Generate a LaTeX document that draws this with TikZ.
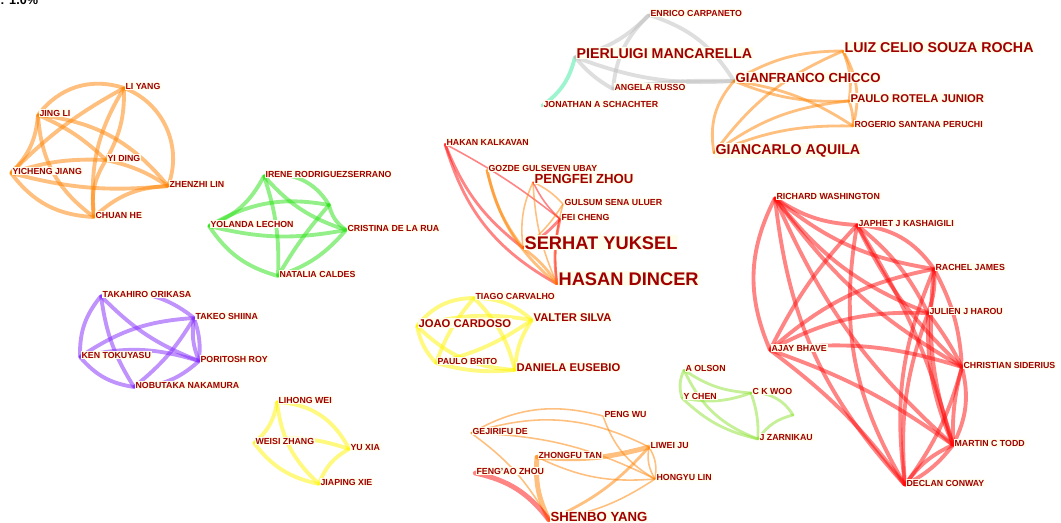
\documentclass[tikz,border=0pt]{standalone}
\usepackage{fontspec}
\setmainfont{Liberation Sans}
\usetikzlibrary{backgrounds}
\definecolor{lblred}{RGB}{160,0,0}
\definecolor{lblbg}{RGB}{255,253,236}
\definecolor{eorange}{RGB}{255,130,0}
\definecolor{ered}{RGB}{255,10,10}
\definecolor{egreen}{RGB}{40,225,20}
\definecolor{epurple}{RGB}{130,40,250}
\definecolor{eyellow}{RGB}{255,245,0}
\definecolor{egrey}{RGB}{190,190,190}
\definecolor{eaqua}{RGB}{60,235,160}
\definecolor{elime}{RGB}{140,225,50}
\begin{document}
\begin{tikzpicture}[x=0.02cm,y=-0.02cm,
	v/.style={inner sep=0pt,minimum size=0pt},
	lab/.style={anchor=base west,yshift=-0.6pt,inner sep=0.5pt,fill=lblbg,text=lblred,font=\bfseries\fontsize{5}{6}\selectfont},
	labm/.style={lab,font=\bfseries\fontsize{6.4}{7.5}\selectfont},
	labl/.style={lab,font=\bfseries\fontsize{7.5}{9}\selectfont},
	labxl/.style={lab,font=\bfseries\fontsize{8.1}{10}\selectfont},
	labxxl/.style={lab,font=\bfseries\fontsize{10.4}{12}\selectfont},
	ed/.style={line cap=round,draw opacity=0.5,line width=2.2pt},
	tn/.style={line width=0.9pt},
	md/.style={line width=1.6pt},
	tk/.style={line width=2.8pt},
	or/.style={ed,draw=eorange},
	rd/.style={ed,draw=ered},
	gr/.style={ed,draw=egreen},
	pu/.style={ed,draw=epurple},
	ye/.style={ed,draw=eyellow},
	gy/.style={ed,draw=egrey},
	aq/.style={ed,draw=eaqua},
	li/.style={ed,draw=elime}]
	\useasboundingbox (0,0) rectangle (1061,523);
	\node[anchor=base west,inner sep=0pt,font=\bfseries\fontsize{7.2}{8}\selectfont] (cutnote) at (0,4.5) {: 1.0\%};

	% orange, left
	\node[v,label={[lab]right:LI YANG}] (liyang) at (124,88) {};
	\node[v,label={[lab]right:JING LI}] (jingli) at (38,115) {};
	\node[v,label={[lab]right:YI DING}] (yiding) at (106,160) {};
	\node[v,label={[lab]right:YICHENG JIANG}] (yicheng) at (11,173) {};
	\node[v,label={[lab]right:ZHENZHI LIN}] (zhenzhi) at (168,186) {};
	\node[v,label={[lab]right:CHUAN HE}] (chuanhe) at (94,217) {};

	% green
	\node[v,label={[lab]right:IRENE RODRIGUEZSERRANO}] (irene) at (264,176) {};
	\node[v,label={[lab]right:YOLANDA LECHON}] (yolanda) at (209,226) {};
	\node[v,label={[lab]right:CRISTINA DE LA RUA}] (cristina) at (346,230) {};
	\node[v,label={[lab]right:NATALIA CALDES}] (natalia) at (278,276) {};
	\coordinate (gx) at (329,205);

	% purple
	\node[v,label={[lab]right:TAKAHIRO ORIKASA}] (takahiro) at (101,296) {};
	\node[v,label={[lab]right:TAKEO SHIINA}] (takeo) at (194,318) {};
	\node[v,label={[lab]right:KEN TOKUYASU}] (ken) at (80,357) {};
	\node[v,label={[lab]right:PORITOSH ROY}] (poritosh) at (199,361) {};
	\node[v,label={[lab]right:NOBUTAKA NAKAMURA}] (nobutaka) at (134,387) {};

	% yellow, small
	\node[v,label={[lab]right:LIHONG WEI}] (lihong) at (277,402) {};
	\node[v,label={[lab]right:WEISI ZHANG}] (weisi) at (254,443) {};
	\node[v,label={[lab]right:YU XIA}] (yuxia) at (349,449) {};
	\node[v,label={[lab]right:JIAPING XIE}] (jiaping) at (319,484) {};

	% serhat group
	\node[v,label={[lab]right:HAKAN KALKAVAN}] (hakan) at (445,144) {};
	\node[v,label={[lab]right:GOZDE GULSEVEN UBAY}] (gozde) at (487,170) {};
	\node[v,label={[labl]right:PENGFEI ZHOU}] (pengfei) at (533,182) {};
	\node[v,label={[lab]right:GULSUM SENA ULUER}] (gulsum) at (563,204) {};
	\node[v,label={[lab]right:FEI CHENG}] (feicheng) at (560,219) {};
	\node[v,label={[labxxl]right:SERHAT YUKSEL}] (serhat) at (523,248) {};
	\node[v,label={[labxxl]right:HASAN DINCER}] (hasan) at (557,284) {};

	% grey
	\node[v,label={[lab]right:ENRICO CARPANETO}] (enrico) at (649,15) {};
	\node[v,label={[labxl]right:PIERLUIGI MANCARELLA}] (pierluigi) at (575,57) {};
	\node[v,label={[lab]right:ANGELA RUSSO}] (angela) at (613,89) {};
	\node[v,label={[lab]right:JONATHAN A SCHACHTER}] (jonathan) at (542,106) {};

	% orange, top right
	\node[v,label={[labxl]right:LUIZ CELIO SOUZA ROCHA}] (luiz) at (843,51) {};
	\node[v,label={[labl]right:GIANFRANCO CHICCO}] (gianfranco) at (734,81) {};
	\node[v,label={[labm]right:PAULO ROTELA JUNIOR}] (paulor) at (849,101) {};
	\node[v,label={[lab]right:ROGERIO SANTANA PERUCHI}] (rogerio) at (853,126) {};
	\node[v,label={[labxl]right:GIANCARLO AQUILA}] (giancarlo) at (714,153) {};

	% yellow, middle
	\node[v,label={[lab]right:TIAGO CARVALHO}] (tiago) at (474,298) {};
	\node[v,label={[labm]right:JOAO CARDOSO}] (joao) at (417,326) {};
	\node[v,label={[labm]right:VALTER SILVA}] (valter) at (532,320) {};
	\node[v,label={[lab]right:PAULO BRITO}] (paulob) at (436,363) {};
	\node[v,label={[labm]right:DANIELA EUSEBIO}] (daniela) at (515,370) {};

	% shenbo group
	\node[v,label={[lab]right:PENG WU}] (pengwu) at (603,416) {};
	\node[v,label={[lab]right:GEJIRIFU DE}] (gejirifu) at (471,433) {};
	\node[v,label={[lab]right:LIWEI JU}] (liwei) at (649,447) {};
	\node[v,label={[lab]right:ZHONGFU TAN}] (zhongfu) at (537,457) {};
	\node[v,label={[lab]right:FENG'AO ZHOU}] (fengao) at (475,473) {};
	\node[v,label={[lab]right:HONGYU LIN}] (hongyu) at (655,479) {};
	\node[v,label={[labl]right:SHENBO YANG}] (shenbo) at (549,520) {};

	% lime
	\node[v,label={[lab]right:A OLSON}] (olson) at (684,370) {};
	\node[v,label={[lab]right:Y CHEN}] (ychen) at (682,398) {};
	\node[v,label={[lab]right:C K WOO}] (ckwoo) at (751,393) {};
	\node[v,label={[lab]right:J ZARNIKAU}] (zarnikau) at (758,439) {};
	\coordinate (ox) at (793,415);

	% red, right
	\node[v,label={[lab]right:RICHARD WASHINGTON}] (richard) at (775,198) {};
	\node[v,label={[lab]right:JAPHET J KASHAIGILI}] (japhet) at (857,225) {};
	\node[v,label={[lab]right:RACHEL JAMES}] (rachel) at (934,269) {};
	\node[v,label={[lab]right:JULIEN J HAROU}] (julien) at (928,313) {};
	\node[v,label={[lab]right:AJAY BHAVE}] (ajay) at (770,350) {};
	\node[v,label={[lab]right:CHRISTIAN SIDERIUS}] (christian) at (962,367) {};
	\node[v,label={[lab]right:MARTIN C TODD}] (martin) at (953,445) {};
	\node[v,label={[lab]right:DECLAN CONWAY}] (declan) at (905,485) {};

	\begin{scope}[on background layer]
	\draw[or] (jingli) to[bend left=35] (liyang); \draw[or] (liyang) to[bend left=45] (zhenzhi);
	\draw[or] (zhenzhi) to[bend right=20] (chuanhe); \draw[or] (chuanhe) to[bend left=25] (yicheng);
	\draw[or] (jingli) to[bend left=20] (yicheng); \draw[or] (liyang) to[bend right=8] (yicheng);
	\draw[or] (liyang) to[bend right=18] (chuanhe); \draw[or] (liyang) to[bend left=15] (yiding);
	\draw[or] (jingli) to[bend left=22] (zhenzhi); \draw[or] (jingli) to[bend left=10] (yiding);
	\draw[or] (jingli) to[bend right=25] (chuanhe);
	\draw[or] (yicheng) to[bend left=10] (yiding); \draw[or] (yicheng) to[bend right=10] (zhenzhi);
	\draw[or] (yiding) to[bend left=10] (zhenzhi); \draw[or] (yiding) to[bend right=20] (chuanhe);

	\draw[gr] (yolanda) to[bend right=20] (irene); \draw[gr] (irene) to[bend right=15] (cristina);
	\draw[gr] (irene) to[bend left=35] (gx); \draw[gr] (irene) to[bend left=10] (natalia);
	\draw[gr] (yolanda) to[bend left=20] (gx); \draw[gr] (yolanda) to[bend right=12] (cristina);
	\draw[gr] (yolanda) to[bend right=20] (natalia); \draw[gr] (natalia) to[bend right=15] (cristina);
	\draw[gr] (natalia) to[bend left=5] (gx); \draw[gr] (gx) to[bend right=20] (cristina);

	\draw[pu] (takahiro) to[bend left=25] (takeo); \draw[pu] (takeo) to[bend right=15] (poritosh);
	\draw[pu] (takeo) to[bend left=12] (poritosh);
	\draw[pu] (takahiro) to[bend right=20] (ken); \draw[pu] (ken) to[bend right=20] (nobutaka);
	\draw[pu] (nobutaka) to[bend right=20] (poritosh); \draw[pu] (takahiro) to[bend right=12] (nobutaka);
	\draw[pu] (takahiro) to[bend right=12] (poritosh); \draw[pu] (takeo) to[bend right=15] (ken);
	\draw[pu] (takeo) to[bend left=10] (nobutaka); \draw[pu] (ken) to[bend left=15] (poritosh);

	\draw[ye] (lihong) to[bend left=30] (yuxia); \draw[ye] (lihong) to[bend left=20] (weisi);
	\draw[ye] (lihong) to[bend right=20] (jiaping); \draw[ye] (weisi) to[bend left=15] (yuxia);
	\draw[ye] (weisi) to[bend right=20] (jiaping); \draw[ye] (jiaping) to[bend left=20] (yuxia);

	\draw[rd,tn] (hakan) to[bend left=5] (feicheng); \draw[rd,md] (hakan) to[bend right=15] (serhat);
	\draw[rd,md] (hakan) to[bend right=22] (hasan);
	\draw[or,md] (gozde) to[bend right=12] (serhat); \draw[or,md] (gozde) to[bend right=18] (hasan);
	\draw[or,tn] (pengfei) to[bend right=15] (serhat); \draw[or,tn] (pengfei) to[bend right=10] (hasan);
	\draw[or,tn] (pengfei) to[bend left=10] (gulsum); \draw[rd,tn] (pengfei) to[bend right=10] (feicheng);
	\draw[or,tn] (gulsum) to[bend left=10] (serhat); \draw[or,tn] (gulsum) to[bend right=10] (hasan);
	\draw[rd,md] (feicheng) to[bend left=10] (serhat); \draw[rd,md] (feicheng) to[bend right=10] (hasan);
	\draw[or,md] (serhat) to[bend left=10] (hasan);

	\draw[aq] (pierluigi) to[bend left=20] (jonathan);
	\draw[gy] (pierluigi) to[bend right=15] (enrico); \draw[gy] (enrico) to[bend right=20] (angela);
	\draw[gy] (enrico) to[bend left=20] (gianfranco); \draw[gy] (pierluigi) to[bend right=10] (angela);
	\draw[gy] (pierluigi) to[bend right=12] (gianfranco); \draw[gy] (angela) to[bend left=5] (gianfranco);

	\draw[or,md] (gianfranco) to[bend left=15] (luiz); \draw[or,md] (luiz) to[bend left=15] (paulor);
	\draw[or,md] (luiz) to[bend left=22] (rogerio); \draw[or,md] (luiz) to[bend right=15] (giancarlo);
	\draw[or,md] (gianfranco) to[bend right=12] (paulor); \draw[or,md] (gianfranco) to[bend left=12] (rogerio);
	\draw[or,md] (gianfranco) to[bend right=25] (giancarlo); \draw[or,md] (paulor) to[bend right=15] (giancarlo);
	\draw[or,md] (rogerio) to[bend right=12] (giancarlo); \draw[or,md] (paulor) to[bend left=10] (rogerio);

	\draw[ye] (joao) to[bend left=25] (tiago); \draw[ye] (tiago) to[bend left=20] (valter);
	\draw[ye] (joao) to[bend left=12] (valter); \draw[ye] (valter) to[bend right=15] (daniela);
	\draw[ye] (joao) to[bend right=15] (paulob); \draw[ye] (paulob) to[bend right=10] (daniela);
	\draw[ye] (joao) to[bend right=20] (daniela); \draw[ye] (tiago) to[bend right=10] (paulob);
	\draw[ye] (tiago) to[bend left=15] (daniela); \draw[ye] (valter) to[bend left=10] (paulob);

	\draw[or,tn] (gejirifu) to[bend left=22] (liwei); \draw[or,tn] (gejirifu) to[bend left=22] (pengwu);
	\draw[or,tn] (gejirifu) to[bend left=12] (hongyu); \draw[or,tn] (gejirifu) to[bend left=12] (shenbo);
	\draw[or,tn] (pengwu) to[bend right=20] (hongyu); \draw[or,tk] (zhongfu) to[bend right=10] (liwei);
	\draw[or,tn] (zhongfu) to[bend right=15] (hongyu); \draw[or,tk] (zhongfu) to[bend right=15] (shenbo);
	\draw[or,md] (liwei) to[bend left=12] (shenbo); \draw[or,tn] (liwei) to[bend left=20] (hongyu);
	\draw[or,tn] (liwei) to[bend right=20] (hongyu); \draw[or,tn] (hongyu) to[bend left=12] (shenbo);
	\draw[rd,tk] (fengao) to[bend left=20] (shenbo);

	\draw[li,md] (olson) to[bend right=15] (ckwoo); \draw[li,md] (olson) to[bend right=20] (ychen);
	\draw[li,md] (olson) to[bend right=22] (zarnikau); \draw[li,md] (ychen) to[bend right=15] (ckwoo);
	\draw[li,md] (ychen) to[bend right=15] (zarnikau); \draw[li,md] (ckwoo) to[bend left=10] (zarnikau);
	\draw[li,md] (ckwoo) to[bend left=30] (ox); \draw[li,md] (zarnikau) to[bend left=20] (ox);

	\draw[rd] (richard) to[bend right=15] (japhet); \draw[rd] (richard) to[bend right=15] (rachel);
	\draw[rd] (richard) to[bend right=15] (julien); \draw[rd] (richard) to[bend right=25] (ajay);
	\draw[rd] (richard) to[bend right=12] (christian); \draw[rd] (richard) to[bend right=12] (martin);
	\draw[rd] (richard) to[bend right=18] (declan);
	\draw[rd] (japhet) to[bend left=25] (rachel); \draw[rd] (japhet) to[bend left=12] (julien);
	\draw[rd] (japhet) to[bend right=8] (ajay); \draw[rd] (japhet) to[bend right=10] (christian);
	\draw[rd] (japhet) to[bend left=8] (martin); \draw[rd] (japhet) to[bend right=20] (declan);
	\draw[rd] (rachel) to[bend left=12] (julien); \draw[rd] (rachel) to[bend right=15] (ajay);
	\draw[rd] (rachel) to[bend left=12] (christian); \draw[rd] (rachel) to[bend right=12] (martin);
	\draw[rd] (rachel) to[bend right=15] (declan);
	\draw[rd] (julien) to[bend right=15] (ajay); \draw[rd] (julien) to[bend left=5] (christian);
	\draw[rd] (julien) to[bend right=12] (martin); \draw[rd] (julien) to[bend right=12] (declan);
	\draw[rd] (ajay) to[bend left=12] (christian); \draw[rd] (ajay) to[bend left=8] (martin);
	\draw[rd] (ajay) to[bend left=8] (declan);
	\draw[rd] (christian) to[bend left=20] (martin); \draw[rd] (christian) to[bend right=8] (martin);
	\draw[rd] (christian) to[bend left=10] (declan);
	\draw[rd] (martin) to[bend right=15] (declan); \draw[rd] (martin) to[bend left=12] (declan);
	\end{scope}
\end{tikzpicture}
\end{document}
